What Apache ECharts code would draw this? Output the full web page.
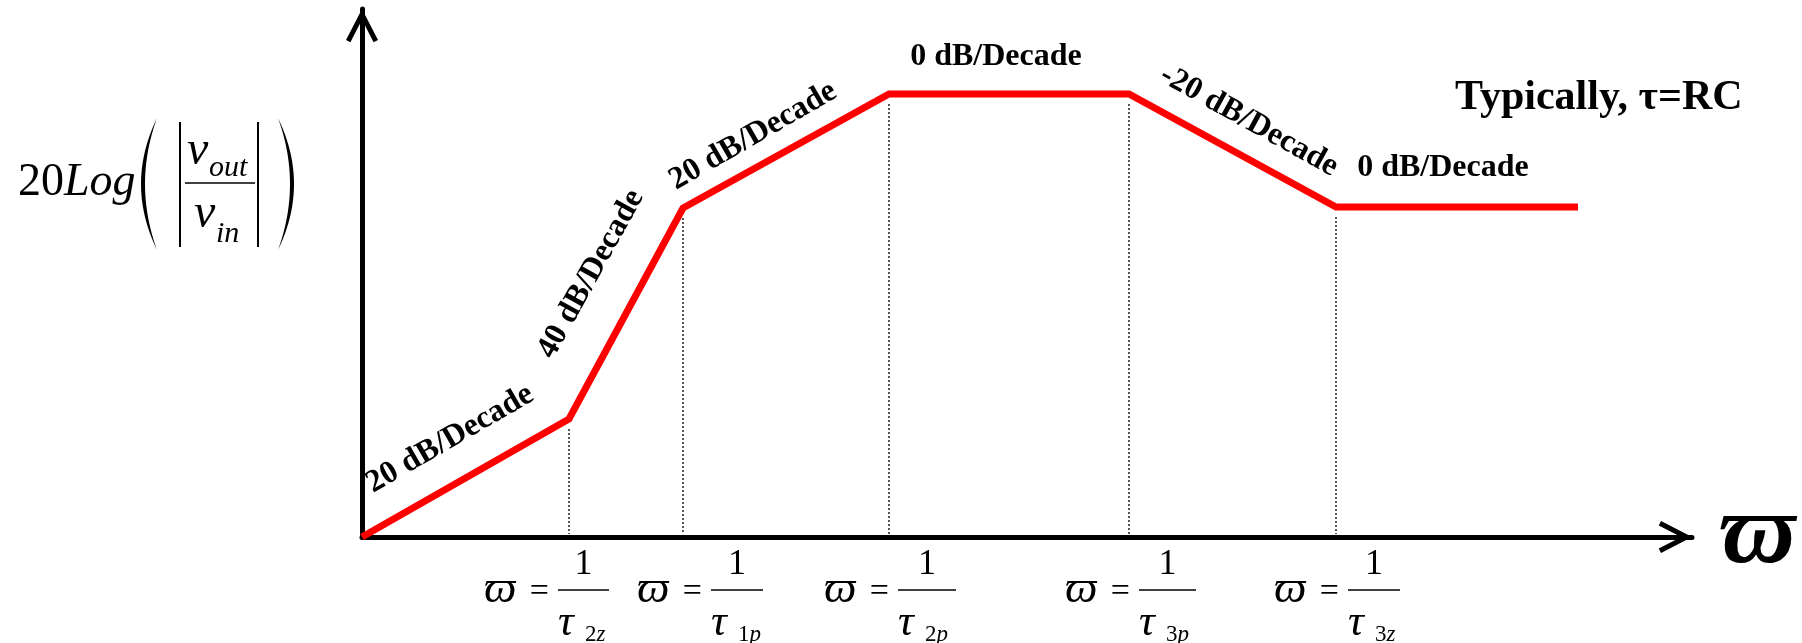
<!DOCTYPE html>
<html>
<head>
<meta charset="utf-8">
<script src="https://cdn.jsdelivr.net/npm/echarts@6/dist/echarts.min.js"></script>
<style>
  html, body { margin: 0; padding: 0; background: #fff; }
  #main { width: 1802px; height: 643px; }
</style>
</head>
<body>
<div id="main"></div>
<script>
// asymptotic Bode magnitude, x = log(omega) and y = gain, both in arbitrary units
const breakX = [0, 20.7, 32.1, 52.7, 76.7, 97.4, 121.6]
const gainY = [0, 11.8, 32.9, 44.3, 44.3, 33.0, 33.0]
const cornerX = [20.7, 32.1, 52.7, 76.7, 97.4]
const cornerY = [11.8, 32.9, 44.3, 44.3, 33.0]
const tauSubs = [['2', 'z'], ['1', 'p'], ['2', 'p'], ['3', 'p'], ['3', 'z']]
const slopeTexts = ['20 dB/Decade', '40 dB/Decade', '20 dB/Decade', '0 dB/Decade', '-20 dB/Decade', '0 dB/Decade']
const xMax = 133
const yMax = 52.8

// layout only (pixels)
const tickShift = [-11, 28, 9, 10, 12]
const barW = [51, 52, 58, 57, 52]
const slopePos = [[450, 439, 30], [591, 274, 61], [753, 136, 30], [996, 57, 0], [1249, 121, -29], [1443, 168, 0]]

const serif = '"Liberation Serif", "Times New Roman", "DejaVu Serif", serif'
const arrow = 'path://M16,0 L32,31 L27.6,33.3 L16,10.9 L4.4,33.3 L0,31 Z'

function crescent(xEnd, yTop, yBot, cOut, cIn) {
    let pts = []
    let yMid = (yTop + yBot) / 2
    for (let i = 0; i <= 24; i++) {
        let t = i / 24
        pts.push([(1 - t) * (1 - t) * xEnd + 2 * (1 - t) * t * cOut + t * t * xEnd,
                  (1 - t) * (1 - t) * yTop + 2 * (1 - t) * t * yMid + t * t * yBot])
    }
    for (let i = 24; i >= 0; i--) {
        let t = i / 24
        pts.push([(1 - t) * (1 - t) * xEnd + 2 * (1 - t) * t * cIn + t * t * xEnd,
                  (1 - t) * (1 - t) * yTop + 2 * (1 - t) * t * yMid + t * t * yBot])
    }
    return pts
}

function txt(text, x, y, font, align) {
    return {type: 'text', x: x, y: y, silent: true,
        style: {text: text, font: font, fill: '#000', align: align || 'left', verticalAlign: 'middle'}}
}

const axisCommon = {
    type: 'value',
    axisTick: {show: false},
    axisLabel: {show: false},
    splitLine: {show: false},
    axisLine: {
        show: true,
        symbol: ['none', arrow],
        symbolSize: [32, 33.3],
        symbolOffset: [0, -16.6],
        lineStyle: {color: '#000', width: 5}
    }
}

let graphics = []
// y axis title: 20Log(|v_out / v_in|)
graphics.push(txt('20', 18, 183, '46px ' + serif))
graphics.push(txt('Log', 64, 183, 'italic 46px ' + serif))
graphics.push({type: 'polygon', shape: {points: crescent(157, 118, 250, 125, 133)}, style: {fill: '#000'}})
graphics.push({type: 'polygon', shape: {points: crescent(278, 118, 250, 310, 302)}, style: {fill: '#000'}})
graphics.push({type: 'line', shape: {x1: 180, y1: 122, x2: 180, y2: 247}, style: {stroke: '#000', lineWidth: 2}})
graphics.push({type: 'line', shape: {x1: 258, y1: 122, x2: 258, y2: 247}, style: {stroke: '#000', lineWidth: 2}})
graphics.push({type: 'line', shape: {x1: 185, y1: 183, x2: 255, y2: 183}, style: {stroke: '#000', lineWidth: 1.5}})
graphics.push(txt('v', 187, 151, 'italic 48px ' + serif))
graphics.push(txt('out', 209, 168, 'italic 30px ' + serif))
graphics.push(txt('v', 194, 214, 'italic 48px ' + serif))
graphics.push(txt('in', 216, 234, 'italic 30px ' + serif))
// x axis title
graphics.push(txt('ϖ', 1720, 536, 'bold italic 100px ' + serif))
// note
graphics.push(txt('Typically, τ=RC', 1455, 98, 'bold 42px ' + serif))
// slope labels
slopeTexts.map((t, i) => {
    let el = txt(t, slopePos[i][0], slopePos[i][1], 'bold 32px ' + serif, 'center')
    el.rotation = slopePos[i][2] * Math.PI / 180
    graphics.push(el)
})

const chart = echarts.init(document.getElementById('main'))
chart.setOption({
    animation: false,
    backgroundColor: '#fff',
    grid: {left: 362, right: 110, top: 9, bottom: 106},
    xAxis: Object.assign({}, axisCommon, {min: 0, max: xMax}),
    yAxis: Object.assign({}, axisCommon, {min: 0, max: yMax}),
    graphic: graphics,
    series: [
        {
            // dotted drop lines at the corner frequencies
            type: 'custom',
            clip: false,
            z: 2,
            encode: {x: 0, y: 1},
            data: cornerX.map((x, i) => [x, cornerY[i]]),
            renderItem: (params, api) => {
                let top = api.coord([api.value(0), api.value(1)])
                let bot = api.coord([api.value(0), 0])
                return {
                    type: 'line',
                    shape: {x1: top[0], y1: top[1] + 10, x2: bot[0], y2: bot[1] - 3},
                    style: {stroke: '#222', lineWidth: 1.5, lineDash: [2, 2]}
                }
            }
        },
        {
            type: 'line',
            clip: false,
            z: 3,
            symbol: 'none',
            data: breakX.map((x, i) => [x, gainY[i]]),
            lineStyle: {color: '#ff0000', width: 7, cap: 'butt', join: 'miter'}
        },
        {
            // tick labels  w = 1 / tau
            type: 'custom',
            clip: false,
            z: 4,
            encode: {x: 0, y: 1},
            data: cornerX.map(x => [x, 0]),
            renderItem: (params, api) => {
                let i = params.dataIndex
                let p = api.coord([api.value(0), 0])
                let bx = p[0] + tickShift[i]
                let y0 = p[1]
                let reg = '34px ' + serif
                return {
                    type: 'group',
                    children: [
                        {type: 'text', style: {text: 'ϖ', x: bx - 74, y: y0 + 53, font: 'italic 46px ' + serif, fill: '#000', align: 'left', verticalAlign: 'middle'}},
                        {type: 'text', style: {text: '=', x: bx - 9, y: y0 + 55, font: reg, fill: '#000', align: 'right', verticalAlign: 'middle'}},
                        {type: 'line', shape: {x1: bx, y1: y0 + 53, x2: bx + barW[i], y2: y0 + 53}, style: {stroke: '#000', lineWidth: 1.5}},
                        {type: 'text', style: {text: '1', x: bx + barW[i] / 2, y: y0 + 28, font: '36px ' + serif, fill: '#000', align: 'center', verticalAlign: 'middle'}},
                        {type: 'text', style: {text: 'τ', x: bx, y: y0 + 86, font: 'italic 44px ' + serif, fill: '#000', align: 'left', verticalAlign: 'middle'}},
                        {type: 'text', style: {
                            text: '{n|' + tauSubs[i][0] + '}{l|' + tauSubs[i][1] + '}',
                            x: bx + 27, y: y0 + 98, fill: '#000', align: 'left', verticalAlign: 'middle',
                            rich: {
                                n: {font: '23px ' + serif, fill: '#000'},
                                l: {font: 'italic 23px ' + serif, fill: '#000'}
                            }
                        }}
                    ]
                }
            }
        }
    ]
})
</script>
</body>
</html>
